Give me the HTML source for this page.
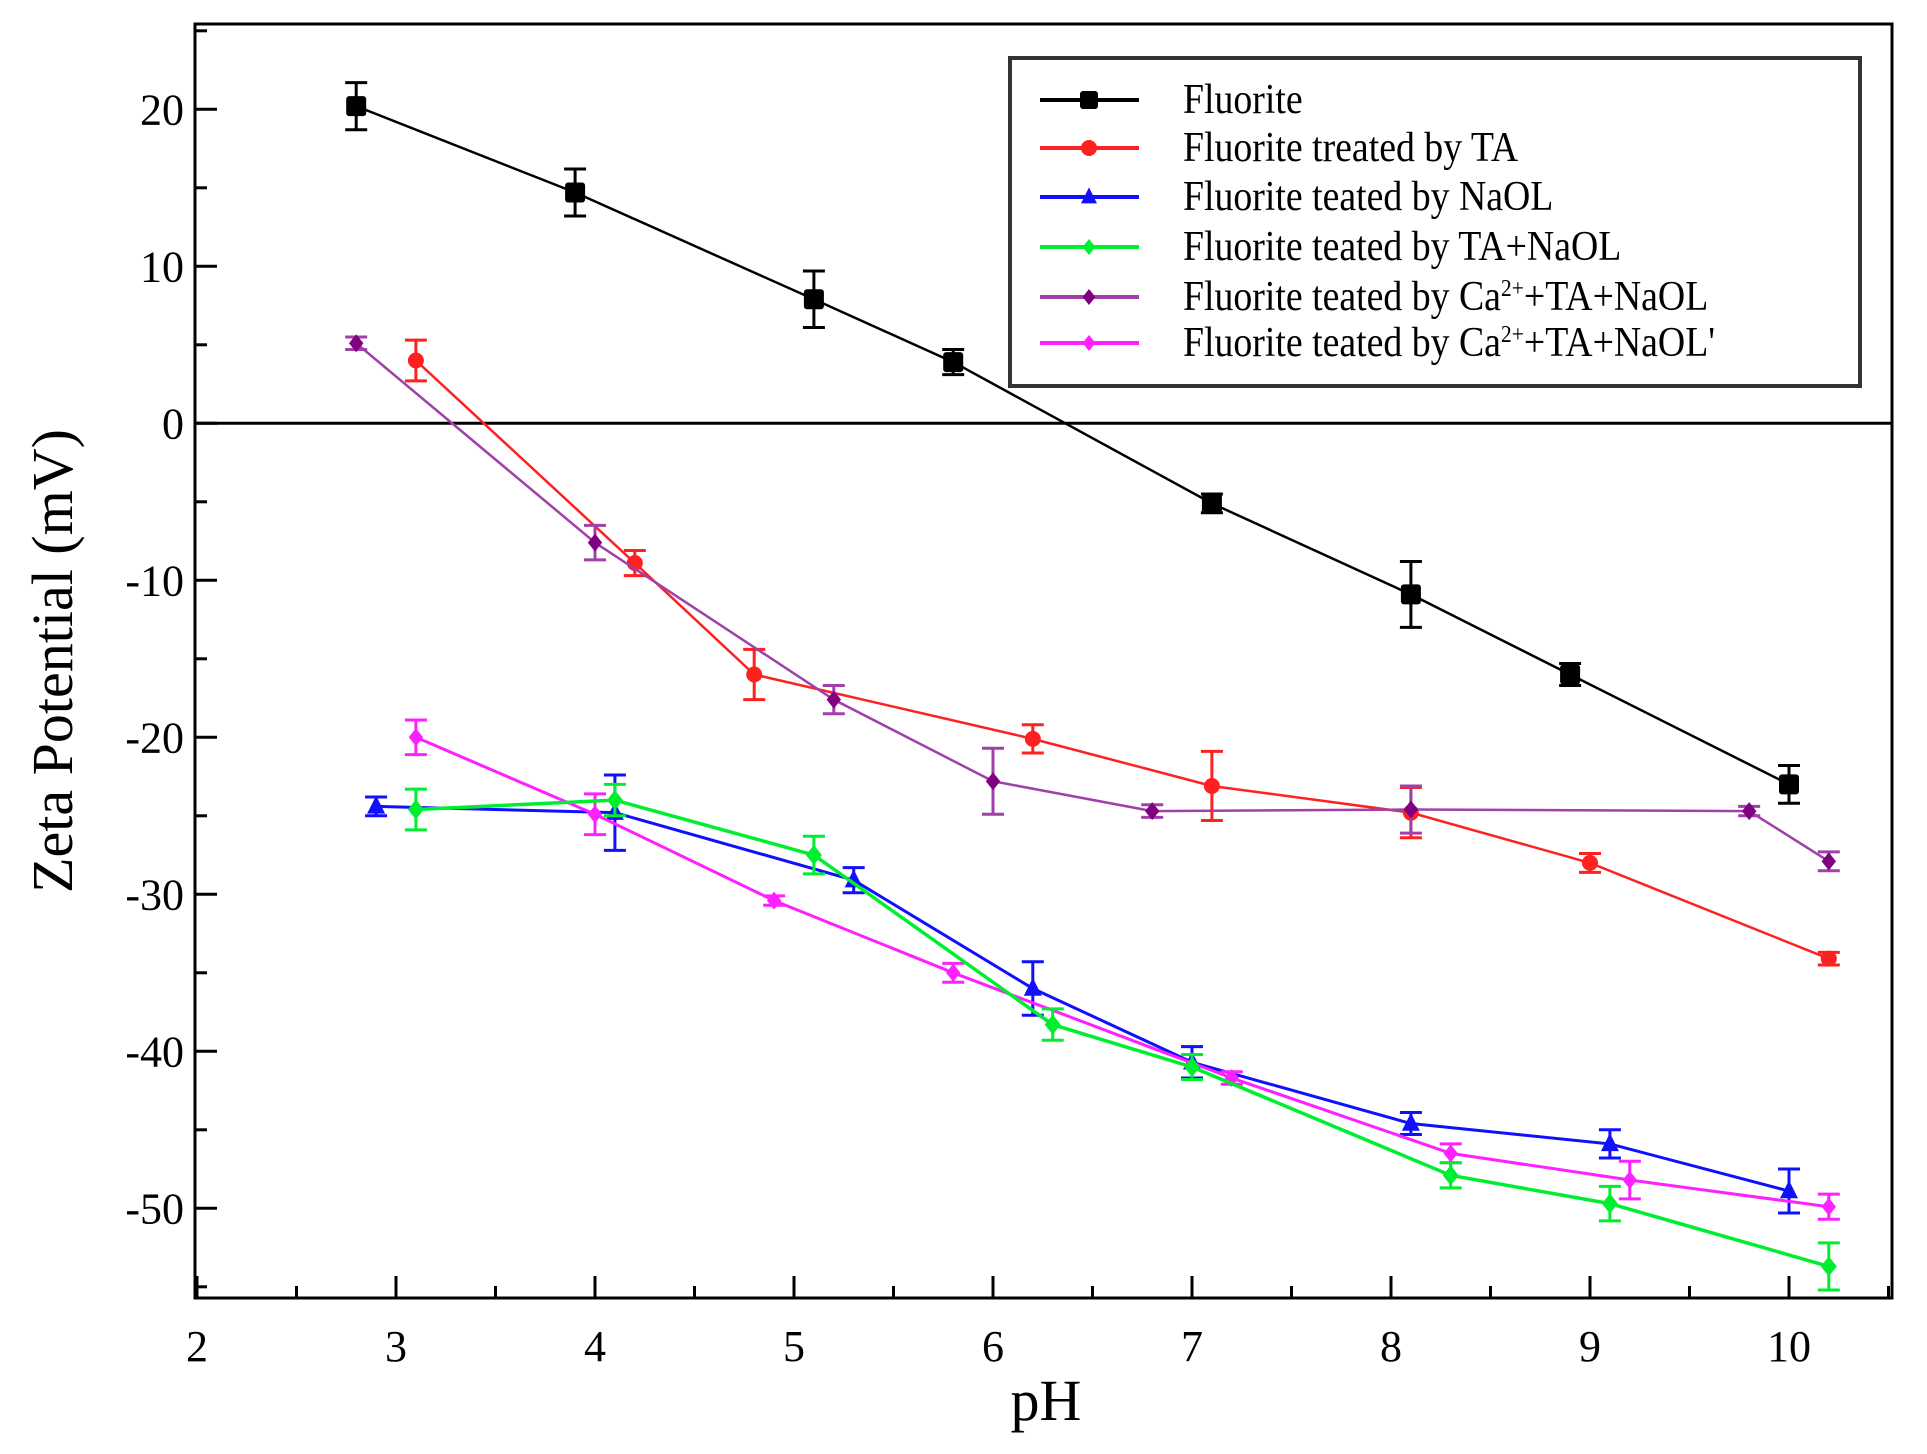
<!DOCTYPE html>
<html><head><meta charset="utf-8"><style>
html,body{margin:0;padding:0;background:#fff;}
svg{display:block;font-family:"Liberation Serif",serif;}
</style></head><body>
<svg id="chart" width="1927" height="1454" viewBox="0 0 1927 1454" xmlns="http://www.w3.org/2000/svg"></svg>
<script>
const xTicks=[2,3,4,5,6,7,8,9,10];
const yTicks=[20,10,0,-10,-20,-30,-40,-50];
const seriesNames=["Fluorite","Fluorite treated by TA","Fluorite teated by NaOL","Fluorite teated by TA+NaOL","Fluorite teated by Ca2+ +TA+NaOL","Fluorite teated by Ca2+ +TA+NaOL'"];
const fluoriteX=[2.8,3.9,5.1,5.8,7.1,8.1,8.9,10];
const fluoriteY=[20.2,14.7,7.9,3.9,-5.1,-10.9,-16,-23];
const fluoriteErr=[1.5,1.5,1.8,0.8,0.6,2.1,0.7,1.2];
const taX=[3.1,4.2,4.8,6.2,7.1,8.1,9.0,10.2];
const taY=[4.0,-8.9,-16,-20.1,-23.1,-24.8,-28,-34.1];
const taErr=[1.3,0.8,1.6,0.9,2.2,1.6,0.6,0.4];
const naolX=[2.9,4.1,5.3,6.2,7.0,8.1,9.1,10.0];
const naolY=[-24.4,-24.8,-29.1,-36,-40.7,-44.6,-45.9,-48.9];
const naolErr=[0.6,2.4,0.8,1.7,1,0.7,0.9,1.4];
const taNaolX=[3.1,4.1,5.1,6.3,7.0,8.3,9.1,10.2];
const taNaolY=[-24.6,-24,-27.5,-38.3,-41,-47.9,-49.7,-53.7];
const taNaolErr=[1.3,1,1.2,1,0.8,0.8,1.1,1.5];
const caX=[2.8,4.0,5.2,6.0,6.8,8.1,9.8,10.2];
const caY=[5.1,-7.6,-17.6,-22.8,-24.7,-24.6,-24.7,-27.9];
const caErr=[0.4,1.1,0.9,2.1,0.4,1.5,0.3,0.6];
const ca2X=[3.1,4.0,4.9,5.8,7.2,8.3,9.2,10.2];
const ca2Y=[-20,-24.9,-30.4,-35,-41.7,-46.5,-48.2,-49.9];
const ca2Err=[1.1,1.3,0.3,0.6,0.4,0.6,1.2,0.8];

const NS="http://www.w3.org/2000/svg";
const svg=document.getElementById('chart');
const L=195,R=1892,T=24,B=1298;
const X0=197,XU=199;
const Y0=423.3,YU=15.7;
function sx(v){return X0+(v-2)*XU;}
function sy(v){return Y0-v*YU;}
function mk(tag,attrs,parent){const e=document.createElementNS(NS,tag);for(const k in attrs)e.setAttribute(k,attrs[k]);(parent||svg).appendChild(e);return e;}

const zl=mk('line',{x1:L,x2:R,y1:sy(0),y2:sy(0),stroke:'#000','stroke-width':3});



for(let v=2;v<=10.5;v+=0.5){
  const major=Number.isInteger(v);
  const t=mk('line',{x1:sx(v),x2:sx(v),y1:B,y2:B-(major?22:12),stroke:'#000','stroke-width':3});
  
  
}
for(let v=-55;v<=25;v+=5){
  const major=v%10===0;
  const t=mk('line',{x1:L,x2:L+(major?22:12),y1:sy(v),y2:sy(v),stroke:'#000','stroke-width':3});
  
  
}
xTicks.forEach(v=>{
  const t=mk('text',{x:sx(v),y:1361,'text-anchor':'middle','font-size':44});
  t.textContent=v;
  
  
});
yTicks.forEach(v=>{
  const t=mk('text',{x:184,y:sy(v)+15,'text-anchor':'end','font-size':44});
  t.textContent=v;
  
  
});
const xt=mk('text',{x:1046,y:1420,'text-anchor':'middle','font-size':58});
xt.textContent='pH';


const yt=mk('text',{x:0,y:0,'text-anchor':'middle','font-size':58,transform:'translate(72,'+((T+B)/2)+') rotate(-90)'});
yt.textContent='Zeta Potential (mV)';



function marker(g,shape,x,y,color,s){
  if(shape==='square') return mk('rect',{x:x-s,y:y-s,width:2*s,height:2*s,rx:3,fill:color},g);
  if(shape==='circle') return mk('circle',{cx:x,cy:y,r:s,fill:color},g);
  if(shape==='tri') return mk('polygon',{points:`${x},${y-s*1.2} ${x-s},${y+s*0.8} ${x+s},${y+s*0.8}`,fill:color},g);
  return mk('polygon',{points:`${x},${y-s} ${x+s*0.8},${y} ${x},${y+s} ${x-s*0.8},${y}`,fill:color},g);
}
const series=[
 {name:'fluorite',xs:fluoriteX,ys:fluoriteY,es:fluoriteErr,color:'#000',shape:'square',s:10,w:2.5},
 {name:'ta',xs:taX,ys:taY,es:taErr,color:'#ff2020',shape:'circle',s:8,w:2.5},
 {name:'purple-ca-ta-naol',xs:caX,ys:caY,es:caErr,color:'#a040a8',shape:'diamond',s:9,w:2.5,mc:'#800080'},
 {name:'naol',xs:naolX,ys:naolY,es:naolErr,color:'#1010ff',shape:'tri',s:9,w:3},
 {name:'magenta-ca-ta-naol-prime',xs:ca2X,ys:ca2Y,es:ca2Err,color:'#ff20ff',shape:'diamond',s:9,w:3},
 {name:'ta-naol',xs:taNaolX,ys:taNaolY,es:taNaolErr,color:'#00ee30',shape:'diamond',s:10,w:3.5},
];
series.forEach(S=>{
  const g=mk('g',{});
  
  
  const pts=S.xs.map((x,i)=>sx(x)+','+sy(S.ys[i])).join(' ');
  const pl=mk('polyline',{points:pts,fill:'none',stroke:S.color,'stroke-width':S.w},g);
  
  
  S.xs.forEach((x,i)=>{
    const px=sx(x),y1=sy(S.ys[i]+S.es[i]),y2=sy(S.ys[i]-S.es[i]);
    const eb=mk('path',{d:`M${px},${y1}V${y2}M${px-11},${y1}H${px+11}M${px-11},${y2}H${px+11}`,stroke:S.color,'stroke-width':3,fill:'none'},g);
    
    
    const m=marker(g,S.shape,px,sy(S.ys[i]),S.mc||S.color,S.s);
    
    
  });
});

const fr=mk('rect',{x:L,y:T,width:R-L,height:B-T,fill:'none',stroke:'#000','stroke-width':3});



const lg=mk('g',{});


const lb=mk('rect',{x:1010,y:58,width:850,height:328,fill:'#fff',stroke:'#333','stroke-width':4},lg);


const legendStyle=[['#000','square'],['#ff2020','circle'],['#1010ff','tri'],['#00ee30','diamond'],['#a040a8','diamond'],['#ff20ff','diamond']];
const rowsY=[100,148,197,247,297,343];
const labelsHTML=['Fluorite','Fluorite treated by TA','Fluorite teated by NaOL','Fluorite teated by TA+NaOL',
 'Fluorite teated by Ca<tspan dy="-14" font-size="24">2+</tspan><tspan dy="14">+TA+NaOL</tspan>',
 'Fluorite teated by Ca<tspan dy="-14" font-size="24">2+</tspan><tspan dy="14">+TA+NaOL\'</tspan>'];
rowsY.forEach((y,i)=>{
  const e=mk('g',{},lg);
  
  
  mk('line',{x1:1040,x2:1139,y1:y,y2:y,stroke:legendStyle[i][0],'stroke-width':4},e);
  marker(e,legendStyle[i][1],1089,y,i===4?'#800080':legendStyle[i][0],legendStyle[i][1]==='square'?9:8);
  const t=mk('text',{x:0,y:0,'font-size':42,transform:`translate(1183,${y+13}) scale(0.9,1)`},e);
  t.innerHTML=labelsHTML[i];
});
</script>
</body></html>
